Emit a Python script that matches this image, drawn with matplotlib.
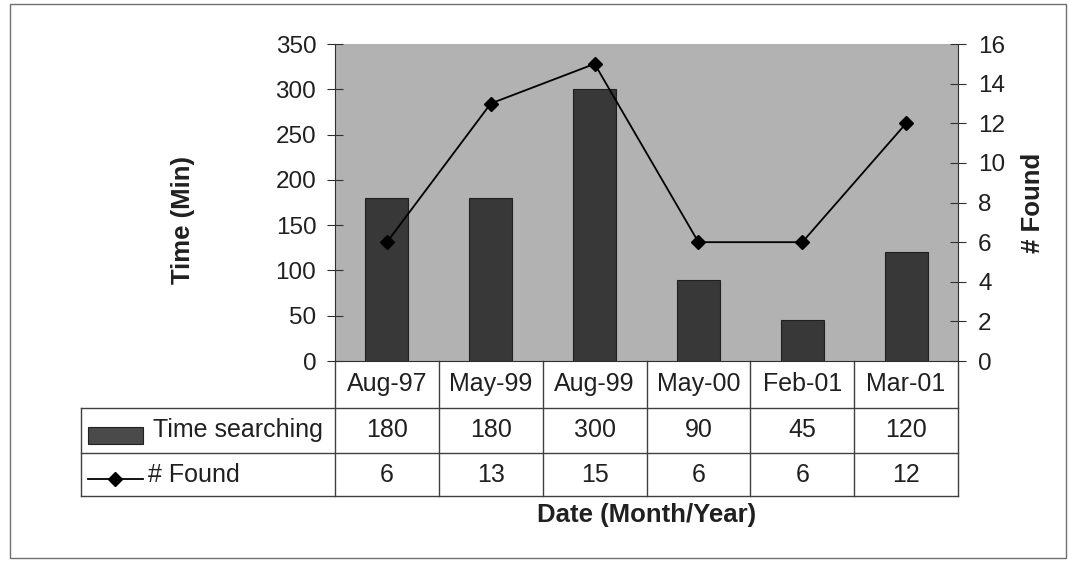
import matplotlib
matplotlib.use("Agg")
import matplotlib.pyplot as plt
import matplotlib.transforms as mtransforms
from matplotlib.lines import Line2D
from matplotlib.patches import Rectangle

plt.rcParams['font.family'] = ['Liberation Sans', 'DejaVu Sans']

dates = ['Aug-97', 'May-99', 'Aug-99', 'May-00', 'Feb-01', 'Mar-01']
time_searching = [180, 180, 300, 90, 45, 120]
found = [6, 13, 15, 6, 6, 12]

bg_color = '#b2b2b2'
bar_color = '#383838'
grid_color = '#404040'
txt_color = '#202020'

fig = plt.figure(figsize=(10.69, 5.65), dpi=100)
ax = fig.add_axes([0.3134, 0.361, 0.5828, 0.561])
ax.set_facecolor(bg_color)

x = list(range(len(dates)))
ax.bar(x, time_searching, width=0.415, color=bar_color, edgecolor='#202020', linewidth=0.8, zorder=2)
ax.set_xlim(-0.5, len(dates) - 0.5)
ax.set_ylim(0, 350)
ax.set_yticks(range(0, 351, 50))
ax.set_xticks([])
ax.tick_params(axis='y', direction='inout', length=11, width=0.8, labelsize=17.5, pad=8,
               color='#303030', labelcolor=txt_color)
for s in ['top', 'right']:
    ax.spines[s].set_visible(False)
ax.spines['left'].set_color('#303030')
ax.spines['bottom'].set_color('#303030')
ax.text(-0.244, 0.445, 'Time (Min)', transform=ax.transAxes, rotation=90, ha='center', va='center',
        fontsize=18.5, fontweight='bold', color=txt_color)

ax2 = ax.twinx()
ax2.plot(x, found, color='black', linewidth=1.3, marker='D', markersize=7, zorder=3)
ax2.set_ylim(0, 16)
ax2.set_yticks(range(0, 17, 2))
ax2.tick_params(axis='y', direction='inout', length=11, width=0.8, labelsize=17.5, pad=9,
                color='#303030', labelcolor=txt_color)
for s in ['top', 'left', 'bottom']:
    ax2.spines[s].set_visible(False)
ax2.spines['right'].set_color('#303030')
ax.text(1.12, 0.5, '# Found', transform=ax.transAxes, rotation=90, ha='center', va='center',
        fontsize=18.5, fontweight='bold', color=txt_color)

# data table below the plot (x in data units, y in axes units)
trans = mtransforms.blended_transform_factory(ax.transData, ax.transAxes)
left_edge = -2.95
row_y = [0, -0.148, -0.290, -0.426]
lkw = dict(transform=trans, color=grid_color, linewidth=1.0, clip_on=False)

for i in range(len(dates) + 1):
    xb = i - 0.5
    ax.add_line(Line2D([xb, xb], [row_y[0], row_y[3]], **lkw))
ax.add_line(Line2D([left_edge, left_edge], [row_y[1], row_y[3]], **lkw))
for yy in row_y[1:]:
    ax.add_line(Line2D([left_edge, len(dates) - 0.5], [yy, yy], **lkw))

tkw = dict(transform=trans, ha='center', va='center', fontsize=18, color=txt_color)
for i, d in enumerate(dates):
    ax.text(i, (row_y[0] + row_y[1]) / 2, d, **tkw)
    ax.text(i, (row_y[1] + row_y[2]) / 2, str(time_searching[i]), **tkw)
    ax.text(i, (row_y[2] + row_y[3]) / 2, str(found[i]), **tkw)

# legend keys inside the row labels
ax.add_patch(Rectangle((-2.88, -0.262), 0.53, 0.054, transform=trans, facecolor='#4a4a4a',
                       edgecolor='#202020', linewidth=0.8, clip_on=False))
ax.text(-2.25, (row_y[1] + row_y[2]) / 2, 'Time searching', transform=trans, ha='left', va='center',
        fontsize=18, color=txt_color)
ax.add_line(Line2D([-2.88, -2.35], [-0.372, -0.372], transform=trans, color='black', linewidth=1.3, clip_on=False))
ax.add_line(Line2D([-2.615], [-0.372], transform=trans, color='black', marker='D', markersize=7, clip_on=False))
ax.text(-2.30, (row_y[2] + row_y[3]) / 2, '# Found', transform=trans, ha='left', va='center',
        fontsize=18, color=txt_color)

ax.text(0.5, -0.486, 'Date (Month/Year)', transform=ax.transAxes, ha='center', va='center',
        fontsize=18.5, fontweight='bold', color=txt_color)

# outer chart frame
fig.add_artist(Rectangle((10 / 1069, 7 / 565), 1056 / 1069, 554 / 565, transform=fig.transFigure,
                         fill=False, edgecolor='#707070', linewidth=1.0))

fig.savefig('out.png', dpi=100)
